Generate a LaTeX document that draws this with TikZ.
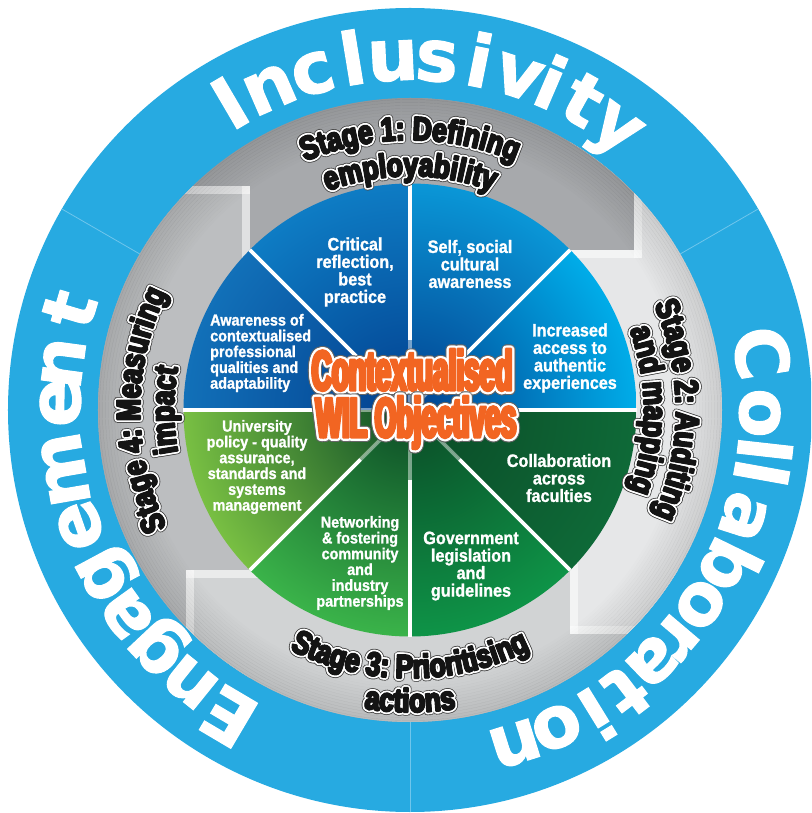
\documentclass[tikz,border=0pt]{standalone}
\usepackage{fontspec}
\usetikzlibrary{decorations.text}
\setmainfont{Liberation Sans}
\newfontfamily\ringfont{DejaVu Sans}[FakeBold=1.5]
\newfontfamily\secfont{Liberation Sans}[FakeStretch=0.9,FakeBold=1.2]
\newfontfamily\stagefont{Liberation Sans}[FakeStretch=0.8,FakeBold=3]
\newfontfamily\titlefont{Liberation Sans}[FakeStretch=0.5,FakeBold=3.5]

\definecolor{ringblue}{HTML}{27AAE1}
\definecolor{ringlinec}{HTML}{6FC6EC}
\definecolor{bandA}{HTML}{A7A9AC}
\definecolor{bandB}{HTML}{E6E7E8}
\definecolor{bandC}{HTML}{D1D3D4}
\definecolor{bandD}{HTML}{BCBEC0}
\definecolor{secA}{HTML}{0E7DC5}
\definecolor{secB}{HTML}{0A98D8}
\definecolor{secC}{HTML}{00AEEA}
\definecolor{secD}{HTML}{0E6A38}
\definecolor{secE}{HTML}{0E9548}
\definecolor{secF}{HTML}{3BB54A}
\definecolor{secG}{HTML}{7AC143}
\definecolor{secH}{HTML}{1271B9}
\definecolor{navycore}{HTML}{023F8E}
\definecolor{greencore}{HTML}{0B4A26}
\definecolor{titleorange}{HTML}{F26522}

% text laid on an arc: dark rim, white halo, heavy black letters
\newcommand\stagelabel[4]{%
  \foreach \ang in {0,30,...,330}{%
    \path[decorate,decoration={text along path,text align=center,
      text={|\stagestyle\color{black!70}|#4}}]
      ([shift={(\ang:3.2)}]#2:#1) arc[start angle=#2,end angle=#3,radius=#1];
  }%
  \foreach \ang in {0,30,...,330}{%
    \path[decorate,decoration={text along path,text align=center,
      text={|\stagestyle\color{white}|#4}}]
      ([shift={(\ang:2.3)}]#2:#1) arc[start angle=#2,end angle=#3,radius=#1];
  }%
  \foreach \ang in {0,90,180,270}{%
    \path[decorate,decoration={text along path,text align=center,
      text={|\stagestyle\color{black!92}|#4}}]
      ([shift={(\ang:0.6)}]#2:#1) arc[start angle=#2,end angle=#3,radius=#1];
  }%
}
\newcommand\stagestyle{\stagefont\bfseries\fontsize{33}{36}\selectfont}

% orange heading line with white and dark outline
\newcommand\titleline[3]{%
  \foreach \ang in {0,24,...,336}{%
    \node[titletxt,text=black!60] (#1-d\ang) at ([shift={(\ang:4.0)}]#2) {#3};}%
  \foreach \ang in {0,24,...,336}{%
    \node[titletxt,text=white] (#1-w\ang) at ([shift={(\ang:2.9)}]#2) {#3};}%
  \foreach \ang in {0,90,180,270}{%
    \node[titletxt,text=titleorange] (#1-o\ang) at ([shift={(\ang:0.7)}]#2) {#3};}%
  \node[titletxt,text=titleorange] (#1) at (#2) {#3};
}

\begin{document}
\begin{tikzpicture}[x=1pt,y=1pt,
  ringletter/.style={text=white,font=\ringfont\bfseries\fontsize{72}{72}\selectfont,anchor=base,inner sep=0},
  ringline/.style={ringlinec,line width=0.8},
  strip/.style={white,opacity=0.55},
  sectxt/.style={text=white,font=\secfont\bfseries\fontsize{18}{17.5}\selectfont,align=center,inner sep=0},
  sectxtsm/.style={text=white,font=\secfont\bfseries\fontsize{16}{15.8}\selectfont,align=center,inner sep=0},
  titletxt/.style={font=\titlefont\bfseries\fontsize{56}{56}\selectfont,anchor=base,inner sep=0},
  divider/.style={white,line width=3.6}]
\useasboundingbox (-410,-403) rectangle (401,410);
\clip (-410,-403) rectangle (401,410);

% outer blue ring
\fill[ringblue] (0,0) circle (402);
\foreach \a in {30,150,270} \draw[ringline] (\a:312) -- (\a:402);

% grey stage bands, each ending in a square corner
\begin{scope}
  \clip (0,0) circle (312);
  \fill[bandA] (0,0) circle (312);
  \fill[bandB] (160,-224) rectangle (330,330);
  \fill[bandA] (0,160) rectangle (224,330);
  \fill[bandC] (-224,-330) rectangle (330,-160);
  \fill[bandB] (160,-224) rectangle (330,-160);
  \fill[bandD] (-330,-330) rectangle (-160,224);
  \fill[bandC] (-224,-330) rectangle (-160,-160);
  % light edges along the square ends
  \fill[strip] (-168,0) rectangle (-160,224);
  \fill[strip] (-330,216) rectangle (-160,224);
  \fill[strip] (224,152) rectangle (232,330);
  \fill[strip] (0,152) rectangle (232,160);
  \fill[strip] (160,-224) rectangle (168,0);
  \fill[strip] (160,-224) rectangle (330,-216);
  \fill[strip] (-224,-330) rectangle (-216,-160);
  \fill[strip] (-224,-168) rectangle (0,-160);
  % darkening towards the outer rim
  \foreach \k in {1,...,14}{%
    \pgfmathsetmacro\op{0.008*\k}\pgfmathsetmacro\rr{270+3*\k}%
    \draw[black,opacity=\op,line width=3.2] (0,0) circle (\rr);}
\end{scope}

% eight objective sectors
\foreach \a/\c/\d in {90/secA/navycore,45/secB/navycore,0/secC/navycore,
    -45/secD/greencore,-90/secE/greencore,-135/secF/greencore,
    180/secG/greencore,135/secH/navycore}{%
  \begin{scope}
    \clip (0,0) -- (\a:226.5) arc[start angle=\a,delta angle=45,radius=226.5] -- cycle;
    \shade[inner color=\d,outer color=\c] (0,0) circle (230);
  \end{scope}}
\foreach \a in {0,45,...,315}{%
  \draw[divider] (\a:70) -- (\a:226.5);
  \draw[divider,opacity=0.45] (0,0) -- (\a:70);}

% sector texts
\node[sectxt] (crit) at (-55,138) {Critical\\reflection,\\best\\practice};
\node[sectxt] (self) at (60,146) {Self, social\\cultural\\awareness};
\node[sectxt] (incr) at (160,52) {Increased\\access to\\authentic\\experiences};
\node[sectxt] (coll) at (149,-68) {Collaboration\\across\\faculties};
\node[sectxt] (gov) at (61,-156) {Government\\legislation\\and\\guidelines};
\node[sectxtsm] (netw) at (-50,-153) {Networking\\\& fostering\\community\\and\\industry\\partnerships};
\node[sectxtsm] (univ) at (-153,-57) {University\\policy - quality\\assurance,\\standards and\\systems\\management};
\node[sectxtsm,align=left,anchor=west] (aware) at (-200,57) {Awareness of\\contextualised\\professional\\qualities and\\adaptability};

% central heading
\titleline{headA}{2,20}{Contextualised}
\titleline{headB}{6,-27}{WIL Objectives}

% stage labels on the grey band
\stagelabel{270}{150}{30}{Stage 1: Defining}
\stagelabel{234}{150}{30}{employability}
\stagelabel{266}{60}{-60}{Stage 2: Auditing}
\stagelabel{234}{60}{-60}{and mapping}
\stagelabel{268}{205}{335}{Stage 3: Prioritising}
\stagelabel{302}{225}{315}{actions}
\stagelabel{270}{240}{120}{Stage 4: Measuring}
\stagelabel{236}{240}{120}{impact}

% words on the blue ring
\foreach \ch/\ang [count=\i] in {I/120.4,n/113.6,c/106.1,l/99.3,u/92.8,s/85.6,
    i/78.7,v/72.0,i/66.7,t/60.8,y/53.8}
  \node[ringletter,rotate=\ang-90] (inc\i) at (\ang:330) {\ch};
\foreach \ch/\ang [count=\i] in {C/9.2,o/-0.5,l/-6.4,l/-10.2,a/-17.8,b/-26.1,
    o/-33.8,r/-40.3,a/-46.1,t/-52.6,i/-58.4,o/-65.2,n/-72.5}
  \node[ringletter,rotate=\ang-90] (col\i) at (\ang:330) {\ch};
\foreach \ch/\ang [count=\i] in {E/239.4,n/231.1,g/223.3,a/215.8,g/208.2,
    e/199.3,m/189.8,e/178.8,n/172.3,t/163.5}
  \node[ringletter,rotate=\ang-90] (eng\i) at (\ang:330) {\ch};
\end{tikzpicture}
\end{document}
